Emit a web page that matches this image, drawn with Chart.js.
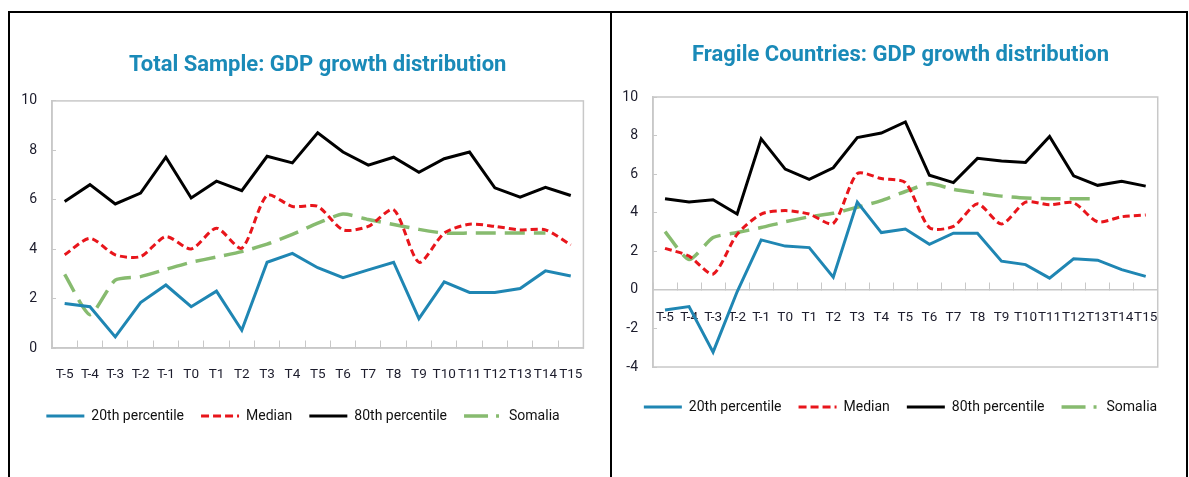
<!DOCTYPE html>
<html><head><meta charset="utf-8">
<script src="https://cdn.jsdelivr.net/npm/chart.js@4"></script>
<style>
html,body{margin:0;padding:0;background:#fff;width:1189px;height:477px;overflow:hidden}
#frame{position:absolute;left:8px;top:11px;width:1180px;height:480px;border:2px solid #000;box-sizing:border-box}
#divider{position:absolute;left:610px;top:11px;width:2px;height:470px;background:#000}
.box{position:absolute}
</style></head><body>
<div id="frame"></div><div id="divider"></div>
<div class="box" style="left:20px;top:14px;width:590px;height:463px"><canvas id="c1"></canvas></div>
<div class="box" style="left:623px;top:14px;width:563px;height:463px"><canvas id="c2"></canvas></div>
<script>
const categories = ['T-5','T-4','T-3','T-2','T-1','T0','T1','T2','T3','T4','T5','T6','T7','T8','T9','T10','T11','T12','T13','T14','T15'];
const seriesNames = ['20th percentile','Median','80th percentile','Somalia'];
const yTicksTotal = {min:0, max:10, step:2};
const yTicksFragile = {min:-4, max:10, step:2};

const p20Total = [1.80,1.67,0.45,1.84,2.55,1.67,2.30,0.72,3.47,3.83,3.25,2.85,3.16,3.47,1.19,2.68,2.25,2.25,2.41,3.12,2.91];
const medTotal = [3.77,4.44,3.77,3.70,4.51,4.01,4.85,4.04,6.18,5.73,5.73,4.78,4.92,5.60,3.47,4.65,5.01,4.92,4.78,4.78,4.17];
const p80Total = [5.93,6.61,5.83,6.27,7.72,6.07,6.75,6.37,7.76,7.49,8.71,7.93,7.40,7.72,7.11,7.66,7.93,6.48,6.10,6.50,6.17];
const somTotal = [2.98,1.35,2.75,2.89,3.18,3.47,3.68,3.90,4.20,4.60,5.05,5.42,5.20,5.00,4.80,4.65,4.65,4.65,4.65,4.65,null];

const p20Frag = [-1.05,-0.87,-3.23,-0.10,2.59,2.27,2.19,0.66,4.55,2.97,3.15,2.36,2.94,2.94,1.49,1.31,0.61,1.61,1.54,1.05,0.70];
const medFrag = [2.15,1.75,0.82,2.88,3.93,4.11,3.93,3.44,6.03,5.77,5.56,3.23,3.29,4.46,3.41,4.55,4.41,4.51,3.53,3.79,3.88];
const p80Frag = [4.72,4.55,4.67,3.93,7.83,6.26,5.73,6.33,7.90,8.13,8.71,5.94,5.56,6.82,6.68,6.61,7.95,5.91,5.42,5.63,5.38];
const somFrag = [3.02,1.57,2.71,2.97,3.23,3.53,3.79,3.97,4.28,4.63,5.10,5.51,5.21,5.03,4.86,4.76,4.72,4.72,4.72,null,null];

const FONT = "Roboto, 'Liberation Sans', sans-serif";
const GRAY = '#c8c8c8';
const TXT = '#1c1c2c';
const COLORS = ['#1f86b3','#e8151b','#000000','#87bb6f'];

const plotBox = {
  id:'plotBox',
  beforeDatasetsDraw(chart){
    const {ctx, chartArea:a} = chart;
    ctx.save(); ctx.strokeStyle = GRAY; ctx.lineWidth = 1.5;
    ctx.strokeRect(a.left, a.top, a.right-a.left, a.bottom-a.top);
    ctx.restore();
  }
};

function makeChart(id, title, data, yt, cfg){
  const ds = [
    {label:seriesNames[0], data:data[0], borderColor:COLORS[0], borderWidth:3, tension:0},
    {label:seriesNames[1], data:data[1], borderColor:COLORS[1], borderWidth:3, borderDash:[7,4], tension:0.25},
    {label:seriesNames[2], data:data[2], borderColor:COLORS[2], borderWidth:3, tension:0},
    {label:seriesNames[3], data:data[3], borderColor:COLORS[3], borderWidth:3.5, borderDash:[20,9], tension:0.2}
  ].map(d => Object.assign(d, {pointRadius:0, fill:false, borderJoinStyle:'miter', borderCapStyle:'butt', spanGaps:false}));
  return new Chart(document.getElementById(id), {
    type:'line',
    data:{labels:categories, datasets:ds},
    options:{
      responsive:true, maintainAspectRatio:false, animation:false,
      layout:{padding:cfg.padding},
      plugins:{
        tooltip:{enabled:false},
        title:{display:true, fullSize:cfg.titleFull, text:title, color:'#1a8ab8', font:{family:FONT, size:22, weight:'bold'}, padding:cfg.titlePad},
        legend:{position:'bottom', labels:{
          usePointStyle:true, pointStyle:'line', pointStyleWidth:38, boxHeight:13, padding:17,
          color:'#111', font:{family:FONT, size:14},
          generateLabels(chart){
            const items = Chart.defaults.plugins.legend.labels.generateLabels(chart);
            items.forEach(it => { it.pointStyle = 'line'; });
            if (items[1]) items[1].lineDash = [8,4];
            if (items[3]) items[3].lineDash = [24,8,3,20];
            return items;
          }
        }}
      },
      scales:{
        x:{type:'category', position:{y:0}, offset:true,
           grid:{offset:true, drawOnChartArea:false, drawTicks:true, tickLength:-8, color:GRAY, lineWidth:1},
           border:{display:true, color:GRAY, width:1.5},
           ticks:{autoSkip:false, maxRotation:0, minRotation:0, padding:cfg.xPad, color:TXT, font:{family:FONT, size:13.5}}},
        gap:{type:'category', position:'bottom', display:true,
           grid:{display:false}, border:{display:false}, ticks:{display:false},
           afterFit(s){ s.height = cfg.gap; }},
        y:{min:yt.min, max:yt.max,
           ticks:{stepSize:yt.step, padding:19, color:TXT, font:{family:FONT, size:14}},
           grid:{drawOnChartArea:false, drawTicks:true, tickLength:-4, color:GRAY},
           border:{display:true, color:GRAY, width:1.5},
           afterFit(s){ s.width = cfg.yWidth; }}
      }
    },
    plugins:[plotBox]
  });
}

makeChart('c1', 'Total Sample: GDP growth distribution', [p20Total, medTotal, p80Total, somTotal], yTicksTotal,
  {padding:{left:0,right:24,top:0,bottom:44}, titleFull:false, titlePad:{top:38,bottom:22.5}, gap:44, xPad:27, yWidth:32});
makeChart('c2', 'Fragile Countries: GDP growth distribution', [p20Frag, medFrag, p80Frag, somFrag], yTicksFragile,
  {padding:{left:0,right:8,top:0,bottom:53}, titleFull:true, titlePad:{top:28,bottom:28.6}, gap:16, xPad:28, yWidth:30});
</script>
</body></html>
